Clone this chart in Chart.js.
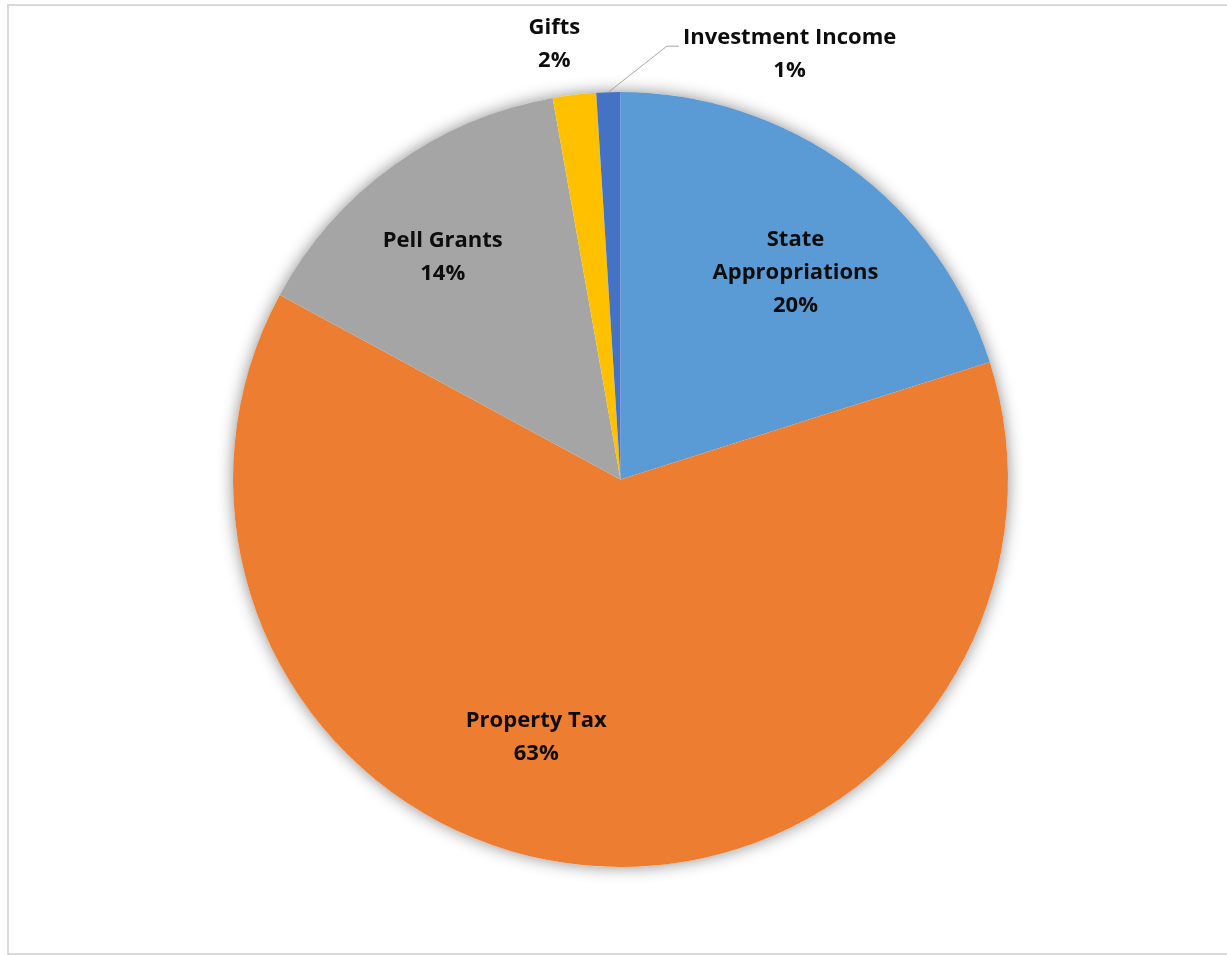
<!doctype html>
<html>

<head>
	<title>Revenue Sources Pie</title>
	<script src="https://cdn.jsdelivr.net/npm/chart.js@4/dist/chart.umd.min.js"></script>
	<style>
		html, body {
			margin: 0;
			padding: 0;
			background: #fff;
			overflow: hidden;
		}
		.frame {
			position: absolute;
			left: 7px;
			top: 4px;
			width: 1240px;
			height: 947px;
			border: 2px solid #d9d9d9;
		}
		#holder {
			position: absolute;
			left: 0;
			top: 0;
			width: 1227px;
			height: 955px;
		}
	</style>
</head>

<body>
	<div class="frame"></div>
	<div id="holder">
		<canvas id="chart"></canvas>
	</div>
	<script>
		var categories = [['State', 'Appropriations'], 'Property Tax', 'Pell Grants', 'Gifts', 'Investment Income'];
		var shares = [20.1, 62.8, 14.3, 1.8, 1.0];
		var sliceColors = ['#5b9bd5', '#ed7d31', '#a5a5a5', '#ffc000', '#4472c4'];

		// where each label sits: angle offset (deg) from the slice middle, radius factor
		var labelPlace = [
			{ turn: 4, dist: 0.70 },
			{ turn: 12.7, dist: 0.70 },
			{ turn: -2.8, dist: 0.735 },
			{ turn: -1.8, dist: 1.137 },
			{ turn: 23.5, dist: 1.18, leader: true }
		];

		var labelFont = 'bold 22px "Open Sans", Lato, sans-serif';
		var lineHeight = 33;

		var pieShadow = {
			id: 'pieShadow',
			beforeDatasetsDraw: function(chart) {
				var arc = chart.getDatasetMeta(0).data[0];
				if (!arc) return;
				var ctx = chart.ctx;
				ctx.save();
				ctx.shadowColor = 'rgba(0,0,0,0.45)';
				ctx.shadowBlur = 16;
				ctx.fillStyle = '#fff';
				ctx.beginPath();
				ctx.arc(arc.x, arc.y, arc.outerRadius, 0, Math.PI * 2);
				ctx.fill();
				ctx.restore();
			}
		};

		var sliceLabels = {
			id: 'sliceLabels',
			afterDatasetsDraw: function(chart) {
				var ctx = chart.ctx;
				var total = shares.reduce(function(a, b) { return a + b; }, 0);
				ctx.save();
				ctx.font = labelFont;
				ctx.fillStyle = '#0d0d0d';
				ctx.textAlign = 'center';
				ctx.textBaseline = 'middle';
				chart.getDatasetMeta(0).data.forEach(function(arc, i) {
					var p = arc.getProps(['x', 'y', 'startAngle', 'endAngle', 'outerRadius'], true);
					var place = labelPlace[i];
					var mid = (p.startAngle + p.endAngle) / 2;
					var a = mid + place.turn * Math.PI / 180;
					var cx = p.x + Math.cos(a) * p.outerRadius * place.dist;
					var cy = p.y + Math.sin(a) * p.outerRadius * place.dist;
					var name = categories[i];
					var lines = Array.isArray(name) ? name.slice() : [name];
					lines.push(Math.round(shares[i] / total * 100) + '%');
					var top = cy - (lines.length - 1) * lineHeight / 2;
					lines.forEach(function(t, k) {
						ctx.fillText(t, cx, top + k * lineHeight);
					});

					if (place.leader) {
						var w = ctx.measureText(lines[0]).width;
						var ex = cx - w / 2 - 4;
						var ey = top + 8;
						var sx = p.x + Math.cos(mid) * p.outerRadius;
						var sy = p.y + Math.sin(mid) * p.outerRadius;
						ctx.strokeStyle = '#a6a6a6';
						ctx.lineWidth = 1;
						ctx.beginPath();
						ctx.moveTo(sx, sy);
						ctx.lineTo(ex - 12, ey);
						ctx.lineTo(ex, ey);
						ctx.stroke();
					}
				});
				ctx.restore();
			}
		};

		window.onload = function() {
			var chartEl = document.getElementById('chart');
			window.myPie = new Chart(chartEl, {
				type: 'pie',
				data: {
					labels: categories,
					datasets: [{
						data: shares,
						backgroundColor: sliceColors,
						borderWidth: 0
					}]
				},
				options: {
					responsive: true,
					maintainAspectRatio: false,
					animation: false,
					layout: {
						padding: { left: 233, right: 219, top: 92, bottom: 88 }
					},
					plugins: {
						legend: { display: false },
						tooltip: { enabled: false }
					}
				},
				plugins: [pieShadow, sliceLabels]
			});
		};
	</script>
</body>

</html>
